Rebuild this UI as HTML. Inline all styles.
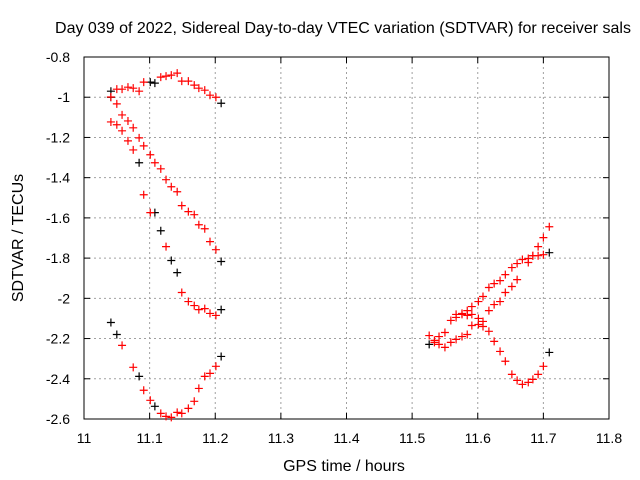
<!DOCTYPE html>
<html><head><meta charset="utf-8"><style>
body{margin:0;background:#fff}
svg{display:block;font-family:"Liberation Sans",sans-serif}
</style></head><body>
<svg id="chart" width="640" height="480">
<text x="343" y="33" text-anchor="middle" font-size="16">Day 039 of 2022, Sidereal Day-to-day VTEC variation (SDTVAR) for receiver sals</text>
<text x="344" y="471" text-anchor="middle" font-size="16">GPS time / hours</text>
<text transform="translate(23,238) rotate(-90)" text-anchor="middle" font-size="16">SDTVAR / TECUs</text>
<g id="grid"></g><g id="axes"></g><g id="marks"></g>
</svg>
<script>
const xTicks=[11,11.1,11.2,11.3,11.4,11.5,11.6,11.7,11.8];
const xTickLabels=["11","11.1","11.2","11.3","11.4","11.5","11.6","11.7","11.8"];
const yTicks=[-0.8,-1,-1.2,-1.4,-1.6,-1.8,-2,-2.2,-2.4,-2.6];
const yTickLabels=["-0.8","-1","-1.2","-1.4","-1.6","-1.8","-2","-2.2","-2.4","-2.6"];
const redT=[11.05,11.058,11.067,11.075,11.084,11.091,11.117,11.125,11.133,11.142,11.149,11.159,11.168,11.175,11.184,11.192,11.201,
11.041,11.05,11.058,11.067,11.075,11.084,11.091,11.101,11.108,11.117,11.125,11.133,11.142,11.149,11.159,11.168,11.175,11.184,11.192,11.201,
11.041,11.05,11.058,11.067,11.075,11.091,11.101,11.125,11.149,11.159,11.168,11.175,11.184,11.192,11.201,
11.058,11.075,11.091,11.101,11.117,11.125,11.133,11.142,11.149,11.159,11.168,11.175,11.184,11.192,11.201,
11.709,11.7,11.692,11.684,11.677,11.668,11.66,11.652,11.642,11.634,11.625,11.617,11.608,11.601,11.591,11.584,11.576,11.567,11.559,11.55,11.541,11.534,11.526,
11.7,11.692,11.684,11.677,11.66,11.652,11.642,11.634,11.625,11.617,11.608,11.601,11.591,11.584,11.576,11.567,11.559,11.55,11.541,11.534,
11.7,11.692,11.684,11.677,11.668,11.66,11.652,11.642,11.634,11.625,11.617,11.608,11.601,11.591,11.584,11.576,11.567];
const redV=[-0.96,-0.96,-0.95,-0.955,-0.97,-0.925,-0.90,-0.895,-0.89,-0.88,-0.92,-0.92,-0.94,-0.955,-0.965,-0.99,-1.0,
-0.999,-1.033,-1.088,-1.118,-1.152,-1.202,-1.242,-1.286,-1.326,-1.356,-1.41,-1.445,-1.47,-1.539,-1.569,-1.584,-1.634,-1.654,-1.718,-1.758,
-1.123,-1.137,-1.167,-1.217,-1.262,-1.485,-1.574,-1.743,-1.971,-2.016,-2.036,-2.056,-2.051,-2.075,-2.085,
-2.234,-2.343,-2.457,-2.507,-2.572,-2.587,-2.592,-2.567,-2.572,-2.547,-2.512,-2.448,-2.388,-2.373,-2.338,
-1.644,-1.698,-1.743,-1.788,-1.802,-1.807,-1.827,-1.847,-1.882,-1.912,-1.927,-1.946,-1.991,-2.016,-2.041,-2.061,-2.075,-2.08,-2.11,-2.17,-2.19,-2.209,-2.185,
-1.783,-1.788,-1.788,-1.822,-1.907,-1.941,-1.971,-2.016,-2.031,-2.061,-2.115,-2.13,-2.135,-2.18,-2.19,-2.204,-2.219,-2.244,-2.229,-2.219,
-2.338,-2.378,-2.403,-2.418,-2.428,-2.408,-2.378,-2.313,-2.264,-2.214,-2.164,-2.14,-2.1,-2.08,-2.085,-2.08,-2.095];
const blackT=[11.041,11.041,11.101,11.108,11.209,11.209,11.084,11.108,11.117,11.133,11.142,11.209,11.041,11.05,11.084,11.108,11.209,11.709,11.709,11.526];
const blackV=[-0.97,-1.0,-0.925,-0.93,-1.03,-1.817,-1.326,-1.574,-1.664,-1.812,-1.872,-2.056,-2.12,-2.18,-2.388,-2.537,-2.289,-1.773,-2.269,-2.229];
const X0=84,X1=609,Y0=57,Y1=419;
const xs=t=>X0+(t-11)/0.8*(X1-X0);
const ys=v=>Y0+(-0.8-v)/1.8*(Y1-Y0);
const NS="http://www.w3.org/2000/svg";
function mk(tag,attrs,parent){const e=document.createElementNS(NS,tag);for(const k in attrs)e.setAttribute(k,attrs[k]);parent.appendChild(e);return e;}
const grid=document.getElementById('grid'),axes=document.getElementById('axes'),marks=document.getElementById('marks');
xTicks.forEach((t,i)=>{const x=xs(t);
 if(i>0&&i<xTicks.length-1){const g=mk('line',{x1:x,x2:x,y1:Y0,y2:Y1,stroke:'#a0a0a0','stroke-dasharray':'2,3'},grid);
 
 }
 mk('line',{x1:x,x2:x,y1:Y1,y2:Y1-6,stroke:'#000'},axes);mk('line',{x1:x,x2:x,y1:Y0,y2:Y0+6,stroke:'#000'},axes);
 const l=mk('text',{x:x,y:Y1+24,'text-anchor':'middle','font-size':'14'},axes);l.textContent=xTickLabels[i];
 
 });
yTicks.forEach((v,i)=>{const y=ys(v);
 if(i>0&&i<yTicks.length-1){const g=mk('line',{x1:X0,x2:X1,y1:y,y2:y,stroke:'#a0a0a0','stroke-dasharray':'2,3'},grid);
 
 }
 mk('line',{x1:X0,x2:X0+6,y1:y,y2:y,stroke:'#000'},axes);mk('line',{x1:X1,x2:X1-6,y1:y,y2:y,stroke:'#000'},axes);
 const l=mk('text',{x:X0-14,y:y+5,'text-anchor':'end','font-size':'14'},axes);l.textContent=yTickLabels[i];
 
 });
const fr=mk('rect',{x:X0,y:Y0,width:X1-X0,height:Y1-Y0,fill:'none',stroke:'#000'},axes);


function plus(t,v,c,name){const x=xs(t),y=ys(v);
 const p=mk('path',{d:`M${x-4} ${y}H${x+4}M${x} ${y-4}V${y+4}`,stroke:c,'stroke-width':1.2,fill:'none'},marks);
 
 }
blackT.forEach((t,i)=>plus(t,blackV[i],'#000','black-point'));
redT.forEach((t,i)=>plus(t,redV[i],'#f00','red-point'));
</script>
</body></html>
